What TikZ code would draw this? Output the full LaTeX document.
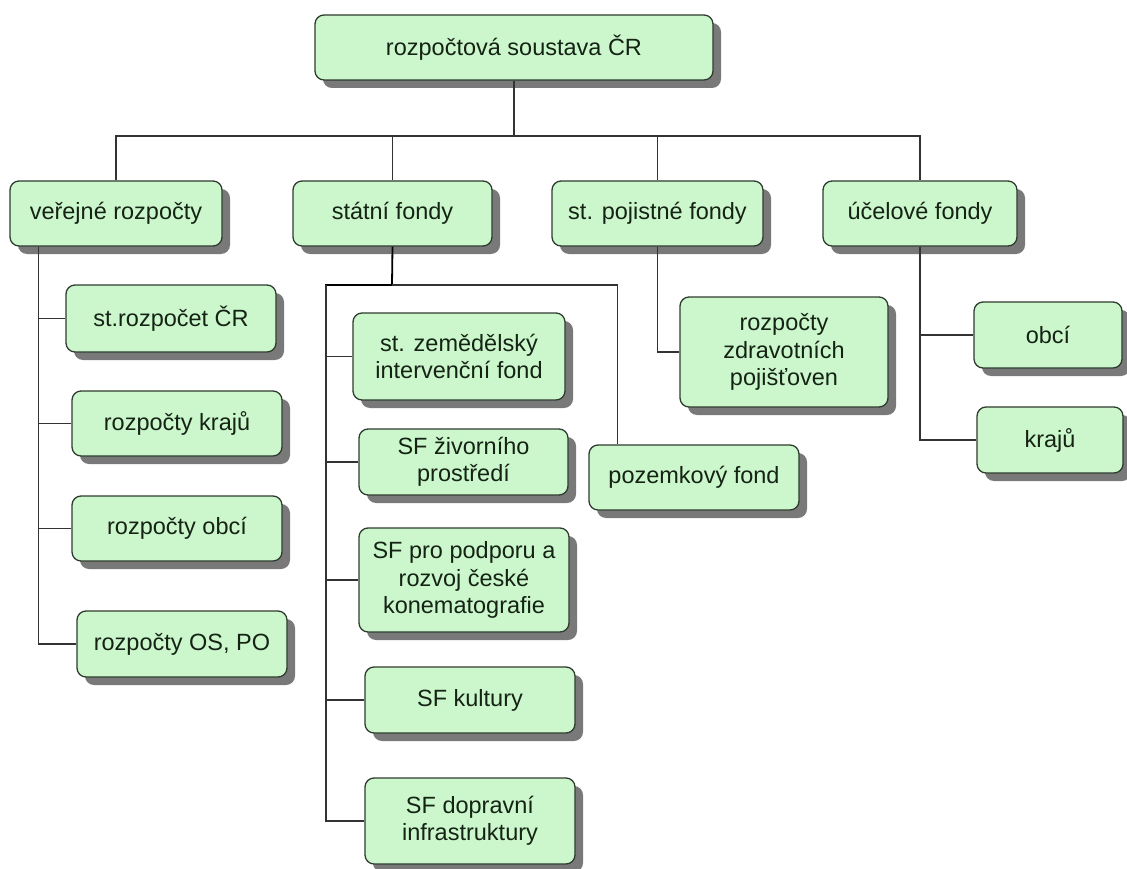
\documentclass[tikz,border=0pt]{standalone}
\usepackage{fontspec}
\setmainfont{Liberation Sans}
\usepackage{xcolor}
\usetikzlibrary{positioning}
\usetikzlibrary{shadows}
\definecolor{boxfill}{HTML}{CCF7CC}
\definecolor{boxline}{HTML}{2E3B2E}
\definecolor{boxtext}{HTML}{152315}
\definecolor{linegray}{HTML}{333333}

\begin{document}
\begin{tikzpicture}[x=1pt, y=-1pt, draw=linegray, line width=1.1pt, font=\fontsize{23.5}{27.5}\selectfont]
		\tikzstyle{block}=[draw=boxline, line width=1.3pt, rounded corners=9pt, fill=boxfill, text=boxtext, inner sep=0pt, minimum height=65pt, align=center, drop shadow={shadow xshift=8pt, shadow yshift=-8pt, fill=black!70, opacity=0.75}]
		\tikzstyle{trunk}=[line width=1.8pt, draw=black]
		
		\useasboundingbox (0,0) rectangle (1127,869);
		
		% top level
		\node[block, minimum width=398pt] (root) at (514,47.5) {rozpočtová soustava ČR};
		\coordinate (bus) at (514,136);
		
		% second level
		\node[block, minimum width=212pt] (VR) at (116,213.5) {veřejné rozpočty};
		\node[block, minimum width=199pt] (SF) at (392.5,213.5) {státní fondy};
		\node[block, minimum width=211pt] (PF) at (657.5,213.5) {st. pojistné fondy};
		\node[block, minimum width=194pt] (UF) at (920,213.5) {účelové fondy};
		
		% veřejné rozpočty
		\node[block, minimum width=210pt, minimum height=67pt] (VR1) at (171,318.5) {st.rozpočet ČR};
		\node[block, minimum width=210pt] (VR2) at (177,423.5) {rozpočty krajů};
		\node[block, minimum width=210pt] (VR3) at (177,528.5) {rozpočty obcí};
		\node[block, minimum width=210pt, minimum height=66pt] (VR4) at (182,644) {rozpočty OS, PO};
		
		% státní fondy
		\node[block, minimum width=212pt, minimum height=87pt] (SF1) at (459,356.5) {st. zemědělský\\intervenční fond};
		\node[block, minimum width=209pt, minimum height=66pt] (SF2) at (463.5,462) {SF živorního\\prostředí};
		\node[block, minimum width=210pt, minimum height=104pt] (SF3) at (464,580) {SF pro podporu a\\rozvoj české\\konematografie};
		\node[block, minimum width=210pt, minimum height=66pt] (SF4) at (470,700) {SF kultury};
		\node[block, minimum width=210pt, minimum height=86pt] (SF5) at (470,821) {SF dopravní\\infrastruktury};
		\node[block, minimum width=210pt] (POZ) at (694,477.5) {pozemkový fond};
		
		% pojistné a účelové fondy
		\node[block, minimum width=208pt, minimum height=110pt] (PF1) at (784,352) {rozpočty\\zdravotních\\pojišťoven};
		\node[block, minimum width=148pt, minimum height=66pt] (UF1) at (1048,335) {obcí};
		\node[block, minimum width=146pt, minimum height=66pt] (UF2) at (1050,440) {krajů};
		
		% connectors
		\draw (root.south) -- (bus);
		\draw (VR.north) |- (bus) -| (UF.north);
		\draw (SF.north) -- (SF.north |- bus);
		\draw (PF.north) -- (PF.north |- bus);
		
		\draw ([xshift=29pt]VR.south west) |- (VR1.west);
		\draw ([xshift=29pt]VR.south west) |- (VR2.west);
		\draw ([xshift=29pt]VR.south west) |- (VR3.west);
		\draw ([xshift=29pt]VR.south west) |- (VR4.west);
		
		\coordinate (sj) at (392,285);
		\coordinate (st) at (326,285);
		\draw[trunk] (SF.south) -- (sj) -- (st) -- (st |- SF5.west);
		\draw (st) |- (SF1.west);
		\draw (st) |- (SF2.west);
		\draw (st) |- (SF3.west);
		\draw (st) |- (SF4.west);
		\draw (st) |- (SF5.west);
		\draw (sj) -| ([xshift=29pt]POZ.north west);
		
		\draw (PF.south) |- (PF1.west);
		\draw (UF.south) |- (UF1.west);
		\draw (UF.south) |- (UF2.west);
		\end{tikzpicture}
\end{document}
